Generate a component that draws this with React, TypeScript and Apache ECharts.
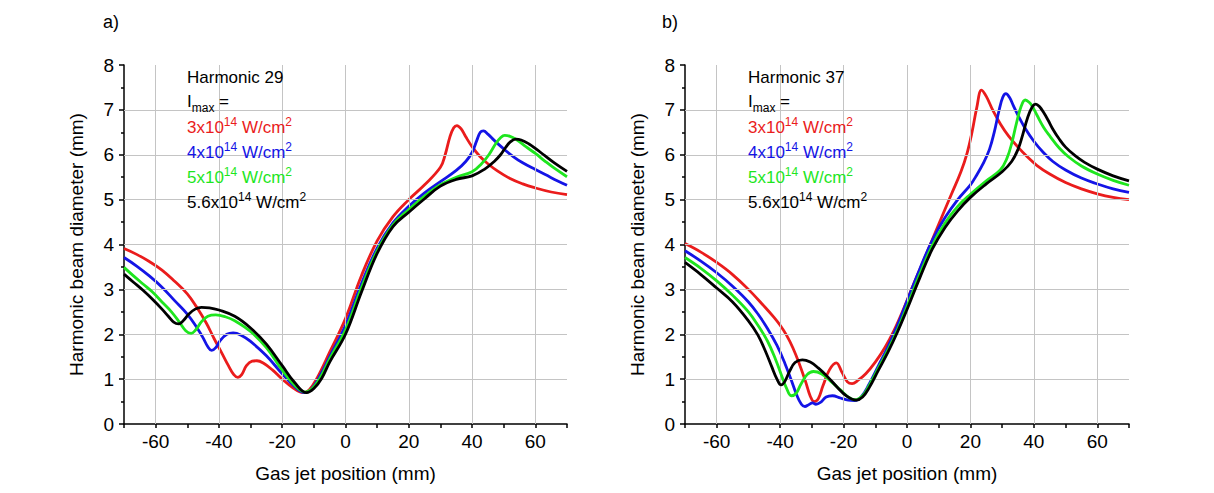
import React, { useEffect, useRef } from 'react';
import * as echarts from 'echarts';

const FONT = '"Liberation Sans", Arial, Helvetica, sans-serif';

// axis / grid values
const xGridValues = [-60, -40, -20, 0, 20, 40, 60];
const yGridValues = [1, 2, 3, 4, 5, 6, 7];
const xLabelValues = [-60, -40, -20, 0, 20, 40, 60];

const panelLabels = ['a)', 'b)'];
const harmonics = [29, 37];
const intensityMantissas = ['3', '4', '5', '5.6'];
const intensityExponent = '14';
const seriesColors = ['#ea1c1c', '#1414e6', '#1ee61e', '#000000'];

// Panel a) Harmonic 29  [gas jet position (mm), beam diameter (mm)]
const h29_3: [number, number][] = [
  [-70, 3.91], [-66, 3.78], [-62, 3.62], [-58, 3.43], [-54, 3.18], [-50, 2.9], [-47, 2.6], [-44, 2.25],
  [-41.5, 1.9], [-39, 1.57], [-37, 1.3], [-35.3, 1.1], [-34, 1.04], [-32.8, 1.1], [-31.3, 1.3], [-29.5, 1.4],
  [-28, 1.41], [-26, 1.36], [-23, 1.2], [-20, 1.0], [-16.5, 0.8], [-13.5, 0.7], [-11.5, 0.76], [-9, 1.02],
  [-5, 1.6], [0, 2.35], [5, 3.3], [10, 4.08], [15, 4.62], [20, 5.0], [25, 5.33], [30, 5.72],
  [31.5, 6.0], [33, 6.4], [34.2, 6.6], [35.2, 6.65], [36.5, 6.58], [38, 6.4], [40, 6.18], [42.5, 5.96],
  [45, 5.8], [48, 5.64], [52, 5.47], [56, 5.35], [60, 5.26], [65, 5.17], [70, 5.11],
];
const h29_4: [number, number][] = [
  [-70, 3.71], [-66, 3.52], [-62, 3.3], [-58, 3.05], [-54, 2.75], [-50, 2.45], [-47, 2.15], [-45, 1.92],
  [-43.5, 1.72], [-42.3, 1.64], [-41, 1.7], [-39.5, 1.87], [-37.5, 2.0], [-35.5, 2.03], [-33, 1.98], [-30, 1.84],
  [-25, 1.52], [-20, 1.12], [-16, 0.83], [-13, 0.7], [-11, 0.76], [-8, 1.08], [-5, 1.5], [0, 2.2],
  [5, 3.12], [10, 3.92], [15, 4.48], [20, 4.85], [25, 5.15], [30, 5.4], [35, 5.65], [38, 5.85],
  [40, 6.05], [41.5, 6.32], [42.6, 6.5], [43.6, 6.53], [45, 6.46], [47, 6.32], [50, 6.13], [53, 5.96],
  [56, 5.82], [60, 5.67], [65, 5.49], [70, 5.32],
];
const h29_5: [number, number][] = [
  [-70, 3.49], [-67, 3.3], [-64, 3.12], [-61, 2.94], [-58, 2.72], [-55, 2.5], [-52.5, 2.27], [-50.5, 2.08],
  [-48.8, 2.02], [-47.3, 2.1], [-45.5, 2.28], [-43.5, 2.4], [-41, 2.43], [-38, 2.39], [-35, 2.3], [-30, 2.06],
  [-25, 1.7], [-20, 1.2], [-16, 0.86], [-12.8, 0.71], [-10.5, 0.79], [-8, 1.03], [-5, 1.45], [0, 2.1],
  [5, 3.03], [10, 3.86], [15, 4.44], [20, 4.78], [25, 5.08], [30, 5.33], [35, 5.5], [40, 5.62],
  [43, 5.8], [45.5, 6.02], [47.5, 6.25], [49, 6.38], [50.3, 6.43], [52, 6.41], [54, 6.34], [57, 6.18],
  [60, 6.03], [63, 5.86], [66, 5.7], [70, 5.51],
];
const h29_56: [number, number][] = [
  [-70, 3.34], [-67, 3.16], [-64, 2.98], [-61, 2.78], [-58, 2.56], [-56, 2.4], [-54.3, 2.27], [-52.8, 2.23],
  [-51.3, 2.3], [-49.5, 2.45], [-47.5, 2.56], [-45.5, 2.6], [-43, 2.59], [-40, 2.54], [-35, 2.4], [-30, 2.14],
  [-25, 1.78], [-20, 1.3], [-16, 0.92], [-12.3, 0.7], [-10, 0.79], [-7.5, 1.02], [-5, 1.38], [0, 2.0],
  [5, 2.93], [10, 3.8], [15, 4.4], [20, 4.72], [25, 5.02], [30, 5.3], [35, 5.45], [40, 5.53],
  [44, 5.68], [47, 5.85], [49, 6.0], [50.5, 6.15], [52, 6.28], [53.8, 6.35], [55.5, 6.33], [58, 6.24],
  [60, 6.14], [63, 5.98], [66, 5.82], [70, 5.63],
];

// Panel b) Harmonic 37
const h37_3: [number, number][] = [
  [-70, 4.02], [-65, 3.83], [-60, 3.6], [-55, 3.33], [-50, 3.0], [-45, 2.62], [-42, 2.38], [-40, 2.2],
  [-38, 1.98], [-36, 1.7], [-34, 1.35], [-32, 0.95], [-30.5, 0.62], [-29.3, 0.5], [-28, 0.56], [-26.5, 0.85],
  [-24.5, 1.2], [-22.3, 1.36], [-20.5, 1.15], [-18.8, 0.94], [-17.3, 0.9], [-15.5, 0.97], [-13, 1.12], [-10, 1.38],
  [-7, 1.7], [-4, 2.1], [-1, 2.58], [2, 3.1], [5, 3.6], [10, 4.45], [14, 5.12], [17, 5.62],
  [19, 6.05], [20.5, 6.5], [22, 7.05], [23.5, 7.44], [25, 7.3], [27, 7.0], [29.5, 6.68], [32, 6.42],
  [35, 6.17], [38, 5.95], [41, 5.76], [45, 5.57], [50, 5.38], [55, 5.24], [60, 5.13], [65, 5.05],
  [70, 5.0],
];
const h37_4: [number, number][] = [
  [-70, 3.86], [-65, 3.63], [-60, 3.37], [-55, 3.07], [-50, 2.72], [-47, 2.45], [-44, 2.13], [-41, 1.75],
  [-38.5, 1.35], [-36.5, 0.98], [-34.8, 0.65], [-33.3, 0.44], [-32.2, 0.39], [-31, 0.43], [-29.8, 0.47], [-28.7, 0.44],
  [-27.3, 0.48], [-25.5, 0.6], [-23.5, 0.63], [-21, 0.58], [-18.5, 0.53], [-16.5, 0.52], [-14.5, 0.6], [-12, 0.88],
  [-9, 1.3], [-6, 1.72], [-3, 2.2], [0, 2.74], [4, 3.45], [8, 4.1], [12, 4.6], [16, 5.0],
  [20, 5.33], [22, 5.55], [24, 5.8], [26, 6.12], [27.5, 6.5], [29, 6.98], [30.2, 7.28], [31.2, 7.36],
  [32.3, 7.28], [33.5, 7.1], [35, 6.88], [37, 6.62], [40, 6.3], [43, 6.05], [46, 5.85], [50, 5.66],
  [55, 5.48], [60, 5.35], [65, 5.24], [70, 5.16],
];
const h37_5: [number, number][] = [
  [-70, 3.71], [-65, 3.47], [-60, 3.19], [-55, 2.87], [-50, 2.5], [-47, 2.2], [-44, 1.85], [-41.5, 1.45],
  [-39.5, 1.07], [-38, 0.8], [-36.5, 0.63], [-35, 0.68], [-33.5, 0.88], [-31.5, 1.1], [-29.5, 1.17], [-27, 1.12],
  [-24, 0.95], [-21, 0.76], [-18.5, 0.6], [-16.5, 0.54], [-14, 0.63], [-12, 0.85], [-9, 1.25], [-6, 1.65],
  [-3, 2.1], [0, 2.62], [4, 3.33], [8, 3.98], [12, 4.48], [16, 4.85], [20, 5.12], [25, 5.42],
  [29.4, 5.66], [31.5, 5.92], [33, 6.25], [34.5, 6.7], [36, 7.08], [37.3, 7.22], [38.5, 7.17], [39.5, 7.08],
  [41, 6.88], [43, 6.62], [45, 6.42], [48, 6.15], [51, 5.95], [55, 5.75], [60, 5.57], [65, 5.43],
  [70, 5.32],
];
const h37_56: [number, number][] = [
  [-70, 3.6], [-65, 3.33], [-60, 3.03], [-55, 2.72], [-50, 2.3], [-47, 1.98], [-44.5, 1.6], [-42.5, 1.25],
  [-41, 1.0], [-39.7, 0.87], [-38.5, 0.95], [-37, 1.18], [-35.3, 1.37], [-33, 1.43], [-30.5, 1.38], [-28, 1.25],
  [-25, 1.05], [-22, 0.82], [-19, 0.62], [-16, 0.53], [-14, 0.6], [-12, 0.8], [-9, 1.2], [-6, 1.6],
  [-3, 2.05], [0, 2.55], [4, 3.25], [8, 3.9], [12, 4.38], [16, 4.75], [20, 5.05], [25, 5.35],
  [30, 5.62], [33, 5.85], [35, 6.12], [36.5, 6.45], [38, 6.82], [39.5, 7.07], [40.6, 7.13], [41.8, 7.07],
  [43, 6.95], [44.5, 6.77], [46, 6.57], [48, 6.35], [50, 6.17], [53, 5.98], [56, 5.83], [60, 5.68],
  [65, 5.53], [70, 5.42],
];

const panelSeries = [
  [h29_3, h29_4, h29_5, h29_56],
  [h37_3, h37_4, h37_5, h37_56],
];

const grids = [
  { left: 124, top: 65, width: 443, height: 359 },
  { left: 685, top: 65, width: 444, height: 359 },
];

function legendElements(x: number, harmonic: number) {
  const base = { fontSize: 17, fontFamily: FONT, lineHeight: 22 };
  const rows: any[] = [];
  rows.push({
    type: 'text', x, y: 77, z: 100,
    style: { text: `Harmonic ${harmonic}`, fill: '#000', font: `17px ${FONT}`, verticalAlign: 'middle' },
  });
  rows.push({
    type: 'text', x, y: 101, z: 100,
    style: {
      text: '{n|I}{b|max}{n| =}', verticalAlign: 'middle',
      rich: {
        n: { ...base, fill: '#000', lineHeight: 26 },
        b: { fontSize: 12, fontFamily: FONT, fill: '#000', verticalAlign: 'bottom' },
      },
    },
  });
  intensityMantissas.forEach((m, i) => {
    const c = seriesColors[i];
    rows.push({
      type: 'text', x, y: 127 + i * 25, z: 100,
      style: {
        text: `{n|${m}x10}{s|${intensityExponent}}{n| W/cm}{s|2}`, verticalAlign: 'middle',
        rich: {
          n: { ...base, fill: c },
          s: { fontSize: 12, fontFamily: FONT, fill: c, verticalAlign: 'top' },
        },
      },
    });
  });
  return rows;
}

export default function App() {
  const ref = useRef<HTMLDivElement>(null);
  useEffect(() => {
    document.body.style.margin = '0';
    if (!ref.current) return;
    const chart = echarts.init(ref.current, undefined, { renderer: 'svg' });

    const axisColor = '#000';
    const xAxes = grids.map((_, gi) => ({
      type: 'value', gridIndex: gi, min: -70, max: 70, interval: 10,
      axisLine: { show: true, onZero: false, lineStyle: { color: axisColor, width: 1.5 } },
      axisTick: { show: true, length: 4, lineStyle: { color: axisColor, width: 1.5 } },
      axisLabel: {
        formatter: (v: number) => (xLabelValues.includes(v) ? String(v) : ''),
        fontSize: 19, fontFamily: FONT, color: '#000', margin: 8,
      },
      splitLine: { show: false },
      name: 'Gas jet position (mm)', nameLocation: 'middle', nameGap: 40,
      nameTextStyle: { fontSize: 19, fontFamily: FONT, color: '#000' },
    }));
    const yAxes = grids.map((_, gi) => ({
      type: 'value', gridIndex: gi, min: 0, max: 8, interval: 1,
      axisLine: { show: true, onZero: false, lineStyle: { color: axisColor, width: 1.5 } },
      axisTick: { show: true, length: 5, lineStyle: { color: axisColor, width: 1.5 } },
      minorTick: { show: true, splitNumber: 2, length: 3, lineStyle: { color: axisColor, width: 1.5 } },
      axisLabel: { fontSize: 19, fontFamily: FONT, color: '#000', margin: 10 },
      splitLine: { show: false },
      name: 'Harmonic beam diameter (mm)', nameLocation: 'middle', nameGap: 38,
      nameTextStyle: { fontSize: 19, fontFamily: FONT, color: '#000' },
    }));

    const series: any[] = [];
    grids.forEach((_, gi) => {
      series.push({
        type: 'line', xAxisIndex: gi, yAxisIndex: gi, data: [], z: 1, silent: true,
        markLine: {
          silent: true, symbol: ['none', 'none'], label: { show: false },
          lineStyle: { color: '#c4c4c4', width: 1, type: 'solid' },
          emphasis: { disabled: true },
          data: [
            ...xGridValues.map((v) => ({ xAxis: v })),
            ...yGridValues.map((v) => ({ yAxis: v })),
          ],
        },
      });
      panelSeries[gi].forEach((d, si) => {
        series.push({
          type: 'line', xAxisIndex: gi, yAxisIndex: gi, data: d, z: 3 + si,
          showSymbol: false, smooth: 0.4, silent: true,
          lineStyle: { color: seriesColors[si], width: 2.8 },
          itemStyle: { color: seriesColors[si] },
        });
      });
    });

    const graphic: any[] = [
      { type: 'text', x: 103, y: 22, style: { text: panelLabels[0], font: `18px ${FONT}`, fill: '#000', verticalAlign: 'middle' } },
      { type: 'text', x: 662, y: 22, style: { text: panelLabels[1], font: `18px ${FONT}`, fill: '#000', verticalAlign: 'middle' } },
      ...legendElements(187, harmonics[0]),
      ...legendElements(748, harmonics[1]),
    ];

    chart.setOption({
      animation: false,
      backgroundColor: '#fff',
      grid: grids,
      xAxis: xAxes,
      yAxis: yAxes,
      series,
      graphic,
    });
    return () => chart.dispose();
  }, []);
  return <div ref={ref} style={{ width: 1214, height: 493 }} />;
}
